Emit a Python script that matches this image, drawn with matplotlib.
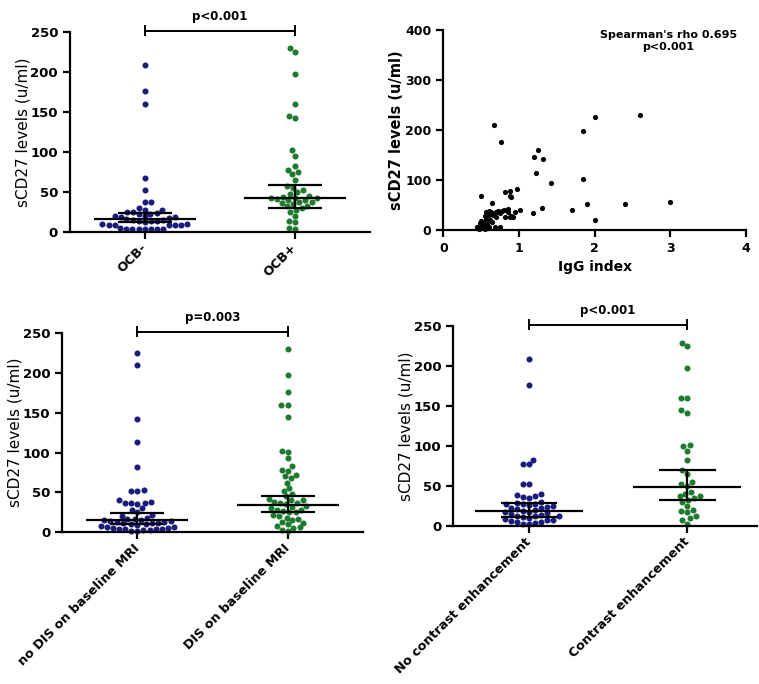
import numpy as np
import matplotlib
matplotlib.use("Agg")
import matplotlib.pyplot as plt

# colours
blue = '#1b1b7d'
green = '#1e7a2e'

# panel A: OCB
ocb_labels = ['OCB-', 'OCB+']
ocb_neg = [209, 176, 160, 68, 53, 37, 37, 30, 28, 27, 25, 25, 24, 23, 22, 20, 20, 19,
           18, 17, 16, 15, 15, 14, 14, 13, 12, 10, 10, 9, 9, 9, 8, 8, 5, 4, 4, 4, 4,
           4, 4, 3]
ocb_pos = [230, 225, 198, 160, 145, 142, 102, 95, 83, 78, 75, 72, 65, 57, 55, 52, 50,
           48, 45, 44, 43, 42, 42, 41, 40, 40, 38, 37, 36, 35, 33, 32, 30, 28, 25, 20,
           14, 12, 5, 3]
ocb_med = [16.5, 42]
ocb_q1 = [12, 30]
ocb_q3 = [24, 59]

# panel B: IgG index vs sCD27
igg = [0.67, 0.76, 1.25, 1.20, 1.32, 1.23, 1.42, 1.85, 2.00, 2.60, 1.85, 3.00, 2.40,
       1.90, 1.70, 2.00, 1.30, 1.18, 1.02, 0.98, 0.88, 0.82, 0.88, 0.90, 0.50, 0.65,
       0.60, 0.63, 0.70, 0.75, 0.80, 0.78, 0.85, 0.95, 0.82, 0.88, 0.92, 0.60, 0.55,
       0.57, 0.50, 0.48, 0.52, 0.55, 0.60, 0.45, 0.50, 0.55, 0.60, 0.65, 0.68, 0.75,
       0.53, 0.58, 0.62, 0.47, 0.53, 0.70, 0.56, 0.49, 0.66, 0.72, 0.90, 0.85]
scd27 = [210, 176, 160, 145, 142, 113, 93, 197, 225, 229, 102, 56, 51,
         52, 40, 20, 43, 33, 40, 82, 78, 76, 67, 65, 67, 53,
         38, 35, 36, 33, 40, 37, 35, 35, 25, 25, 25, 30, 28,
         22, 18, 14, 10, 8, 5, 5, 3, 2, 3, 15, 5, 5,
         15, 12, 20, 2, 5, 25, 35, 8, 30, 38, 28, 42]

# panel C: DIS
dis_labels = ['no DIS on baseline MRI', 'DIS on baseline MRI']
dis_no = [225, 210, 142, 113, 82, 53, 52, 52, 40, 38, 37, 37, 36, 35, 30, 28, 25, 22,
          20, 18, 17, 16, 15, 15, 14, 14, 13, 13, 12, 12, 11, 10, 10, 9, 8, 7, 6, 5,
          5, 4, 4, 4, 4, 3, 3, 2, 1]
dis_yes = [230, 198, 176, 160, 160, 145, 102, 101, 93, 83, 78, 77, 72, 70, 68, 62, 55,
           52, 48, 45, 42, 40, 40, 38, 37, 36, 35, 33, 32, 30, 28, 28, 27, 25, 25, 22,
           20, 18, 17, 15, 13, 12, 10, 8, 6, 5, 3, 2]
dis_med = [15.5, 34.5]
dis_q1 = [10, 25.5]
dis_q3 = [24, 46]

# panel D: contrast enhancement
ce_labels = ['No contrast enhancement', 'Contrast enhancement']
ce_no = [209, 176, 83, 78, 77, 53, 52, 40, 39, 38, 36, 35, 30, 29, 28, 28, 27, 26, 25,
         24, 23, 22, 21, 20, 19, 18, 17, 16, 15, 14, 13, 12, 12, 11, 10, 9, 8, 7, 6,
         5, 5, 4, 3, 2]
ce_yes = [229, 225, 198, 160, 160, 145, 142, 101, 100, 94, 83, 70, 65, 55, 52, 50, 42,
          40, 38, 37, 35, 33, 30, 25, 20, 19, 17, 12, 10, 8, 3]
ce_med = [18.5, 48.5]
ce_q1 = [11.5, 33]
ce_q3 = [28.5, 70]


def swarm_x(ax, pos, vals, d=6.2):
    # simple beeswarm: place points in pixel space, nearest to centre first
    vals = np.asarray(vals, dtype=float)
    ys = ax.transData.transform(np.column_stack([np.full(len(vals), pos), vals]))[:, 1]
    ppu = ax.transData.transform([[1, 0]])[0, 0] - ax.transData.transform([[0, 0]])[0, 0]
    placed = []
    xs = np.zeros(len(vals))
    for i in np.argsort(vals):
        y = ys[i]
        near = [(px, py) for px, py in placed if abs(py - y) < d]
        cands = [0.0]
        for px, py in near:
            dx = np.sqrt(d ** 2 - (py - y) ** 2)
            cands += [px - dx, px + dx]
        cands.sort(key=abs)
        for c in cands:
            if all((c - px) ** 2 + (y - py) ** 2 >= d ** 2 - 1e-6 for px, py in near):
                break
        placed.append((c, y))
        xs[i] = pos + c / ppu
    return xs


def style_axes(ax, tick_size=9.5):
    for s in ['top', 'right']:
        ax.spines[s].set_visible(False)
    for s in ['left', 'bottom']:
        ax.spines[s].set_linewidth(1.6)
    ax.tick_params(width=1.6, length=5, labelsize=tick_size, direction='out')
    for lab in ax.get_yticklabels():
        lab.set_fontweight('bold')


def dot_panel(ax, groups, labels, med, q1, q3, ptext, xlim):
    ax.set_xlim(*xlim)
    ax.set_ylim(0, 250)
    ax.set_yticks([0, 50, 100, 150, 200, 250])
    style_axes(ax)
    for i, (vals, col) in enumerate(zip(groups, [blue, green])):
        xs = swarm_x(ax, i, vals)
        ax.scatter(xs, vals, s=19, color=col, linewidths=0, zorder=2, clip_on=False)
        ax.hlines(med[i], i - 0.34, i + 0.34, color='black', lw=1.6, zorder=3)
        ax.hlines([q1[i], q3[i]], i - 0.18, i + 0.18, color='black', lw=1.6, zorder=3)
        ax.vlines(i, q1[i], q3[i], color='black', lw=1.6, zorder=3)
    ax.set_xticks([0, 1])
    ax.set_xticklabels(labels, rotation=45, ha='right', va='center',
                       rotation_mode='anchor', fontsize=9.2, fontweight='bold')
    ax.tick_params(axis='x', pad=5)
    ax.set_ylabel('sCD27 levels (u/ml)', fontsize=11, labelpad=0)
    # significance bracket
    yb = 252
    ax.plot([0, 1], [yb, yb], color='black', lw=1.4, clip_on=False)
    ax.plot([0, 0], [yb - 6, yb + 6], color='black', lw=1.4, clip_on=False)
    ax.plot([1, 1], [yb - 6, yb + 6], color='black', lw=1.4, clip_on=False)
    ax.text(0.5, yb + 9, ptext, ha='center', va='bottom', fontsize=8.5,
            fontweight='bold')


fig = plt.figure(figsize=(7.59, 6.84), dpi=100)

ax1 = fig.add_axes([0.092, 0.661, 0.395, 0.292])
dot_panel(ax1, [ocb_neg, ocb_pos], ocb_labels, ocb_med, ocb_q1, ocb_q3,
          'p<0.001', (-0.5, 1.5))

ax2 = fig.add_axes([0.584, 0.664, 0.399, 0.292])
ax2.scatter(igg, scd27, s=14, color='black', linewidths=0, clip_on=False, zorder=2)
ax2.set_xlim(0, 4)
ax2.set_ylim(0, 400)
ax2.set_xticks([0, 1, 2, 3, 4])
ax2.set_yticks([0, 100, 200, 300, 400])
style_axes(ax2, tick_size=9)
for lab in ax2.get_xticklabels():
    lab.set_fontweight('bold')
ax2.set_xlabel('IgG index', fontsize=10, fontweight='bold')
ax2.set_ylabel('sCD27 levels (u/ml)', fontsize=10.5, fontweight='bold', labelpad=1)
ax2.text(0.743, 1.0, "Spearman's rho 0.695\np<0.001", transform=ax2.transAxes,
         ha='center', va='top', fontsize=8, fontweight='bold', linespacing=1.2)

ax3 = fig.add_axes([0.082, 0.222, 0.396, 0.291])
dot_panel(ax3, [dis_no, dis_yes], dis_labels, dis_med, dis_q1, dis_q3,
          'p=0.003', (-0.5, 1.5))

ax4 = fig.add_axes([0.597, 0.231, 0.400, 0.292])
dot_panel(ax4, [ce_no, ce_yes], ce_labels, ce_med, ce_q1, ce_q3,
          'p<0.001', (-0.48, 1.44))

fig.savefig('out.png', dpi=100)
